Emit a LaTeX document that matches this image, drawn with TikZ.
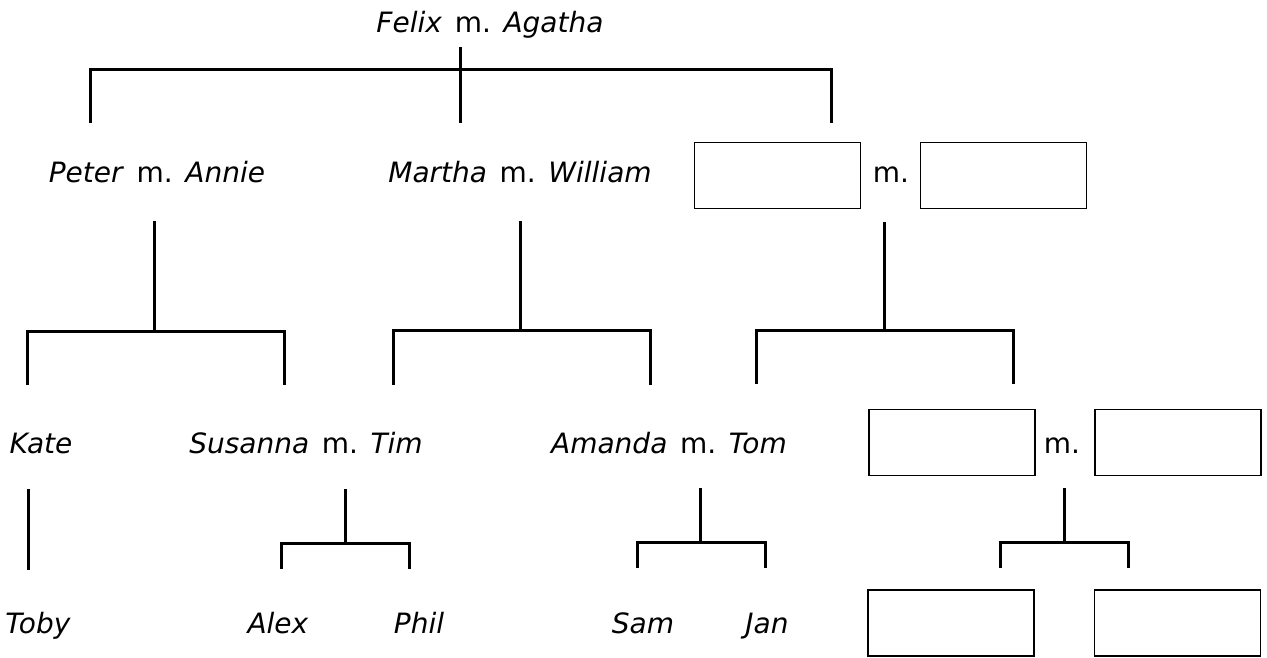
\documentclass[tikz,border=0pt]{standalone}
\usepackage{fontspec}
\setmainfont{DejaVu Sans}
\newcommand\marr{\hspace{0.45em}m.\hspace{0.45em}}
\begin{document}
\begin{tikzpicture}[x=1pt,y=-1pt,
  txt/.style={inner sep=0pt, anchor=base, font=\fontsize{28}{32}\selectfont},
  blank/.style={draw, line width=1.5pt, minimum width=166pt, minimum height=66pt, inner sep=0pt},
  link/.style={line width=3pt}]
\useasboundingbox (0,0) rectangle (1267,657);
% row 1
\node[txt] (felix) at (490,32) {\textit{Felix}\marr\textit{Agatha}};
% row 2
\node[txt] (peter) at (157,182) {\textit{Peter}\marr\textit{Annie}};
\node[txt] (martha) at (520,182) {\textit{Martha}\marr\textit{William}};
\node[blank] (b1) at (777.5,175.5) {};
\node[txt] (m1) at (891,182) {m.};
\node[blank] (b2) at (1003.5,175.5) {};
% row 3
\node[txt] (kate) at (41,453) {\textit{Kate}};
\node[txt] (susanna) at (306,453) {\textit{Susanna}\marr\textit{Tim}};
\node[txt] (amanda) at (669,453) {\textit{Amanda}\marr\textit{Tom}};
\node[blank] (b3) at (952,442.5) {};
\node[txt] (m2) at (1062,453) {m.};
\node[blank] (b4) at (1178,442.5) {};
% row 4
\node[txt] (toby) at (38,633) {\textit{Toby}};
\node[txt] (alex) at (278,633) {\textit{Alex}};
\node[txt] (phil) at (419,633) {\textit{Phil}};
\node[txt] (sam) at (643,633) {\textit{Sam}};
\node[txt] (jan) at (767,633) {\textit{Jan}};
\node[blank] (b5) at (951,623) {};
\node[blank] (b6) at (1177.5,623) {};

% generation 1 -> 2
\coordinate (fTop) at (460,47);
\coordinate (bar1) at (460,69);
\coordinate (d1a) at (90,123);
\coordinate (d1b) at (460,123);
\coordinate (d1c) at (831,123);
\draw[link] (fTop) -- (d1b);
\draw[link] (d1a) -- (d1a |- bar1) -- (d1c |- bar1) -- (d1c);

% generation 2 -> 3
\coordinate (pA) at (154,221);  \coordinate (pJ) at (154,331);
\coordinate (pL) at (27,385);   \coordinate (pR) at (284,385);
\draw[link] (pA) -- (pJ);
\draw[link] (pL) -- (pL |- pJ) -- (pR |- pJ) -- (pR);

\coordinate (mA) at (520,221);  \coordinate (mJ) at (520,330);
\coordinate (mL) at (393,385);  \coordinate (mR) at (650,385);
\draw[link] (mA) -- (mJ);
\draw[link] (mL) -- (mL |- mJ) -- (mR |- mJ) -- (mR);

\coordinate (xA) at (884,222);  \coordinate (xJ) at (884,330);
\coordinate (xL) at (756,384);  \coordinate (xR) at (1013,384);
\draw[link] (xA) -- (xJ);
\draw[link] (xL) -- (xL |- xJ) -- (xR |- xJ) -- (xR);

% generation 3 -> 4
\coordinate (kA) at (28,489);  \coordinate (kB) at (28,570);
\draw[link] (kA) -- (kB);

\coordinate (sA) at (345,489);  \coordinate (sJ) at (345,543);
\coordinate (sL) at (281,569);  \coordinate (sR) at (409,569);
\draw[link] (sA) -- (sJ);
\draw[link] (sL) -- (sL |- sJ) -- (sR |- sJ) -- (sR);

\coordinate (aA) at (700,488);  \coordinate (aJ) at (700,542);
\coordinate (aL) at (637,568);  \coordinate (aR) at (765,568);
\draw[link] (aA) -- (aJ);
\draw[link] (aL) -- (aL |- aJ) -- (aR |- aJ) -- (aR);

\coordinate (yA) at (1064,488);  \coordinate (yJ) at (1064,542);
\coordinate (yL) at (1000,568);  \coordinate (yR) at (1128,568);
\draw[link] (yA) -- (yJ);
\draw[link] (yL) -- (yL |- yJ) -- (yR |- yJ) -- (yR);
\end{tikzpicture}
\end{document}
